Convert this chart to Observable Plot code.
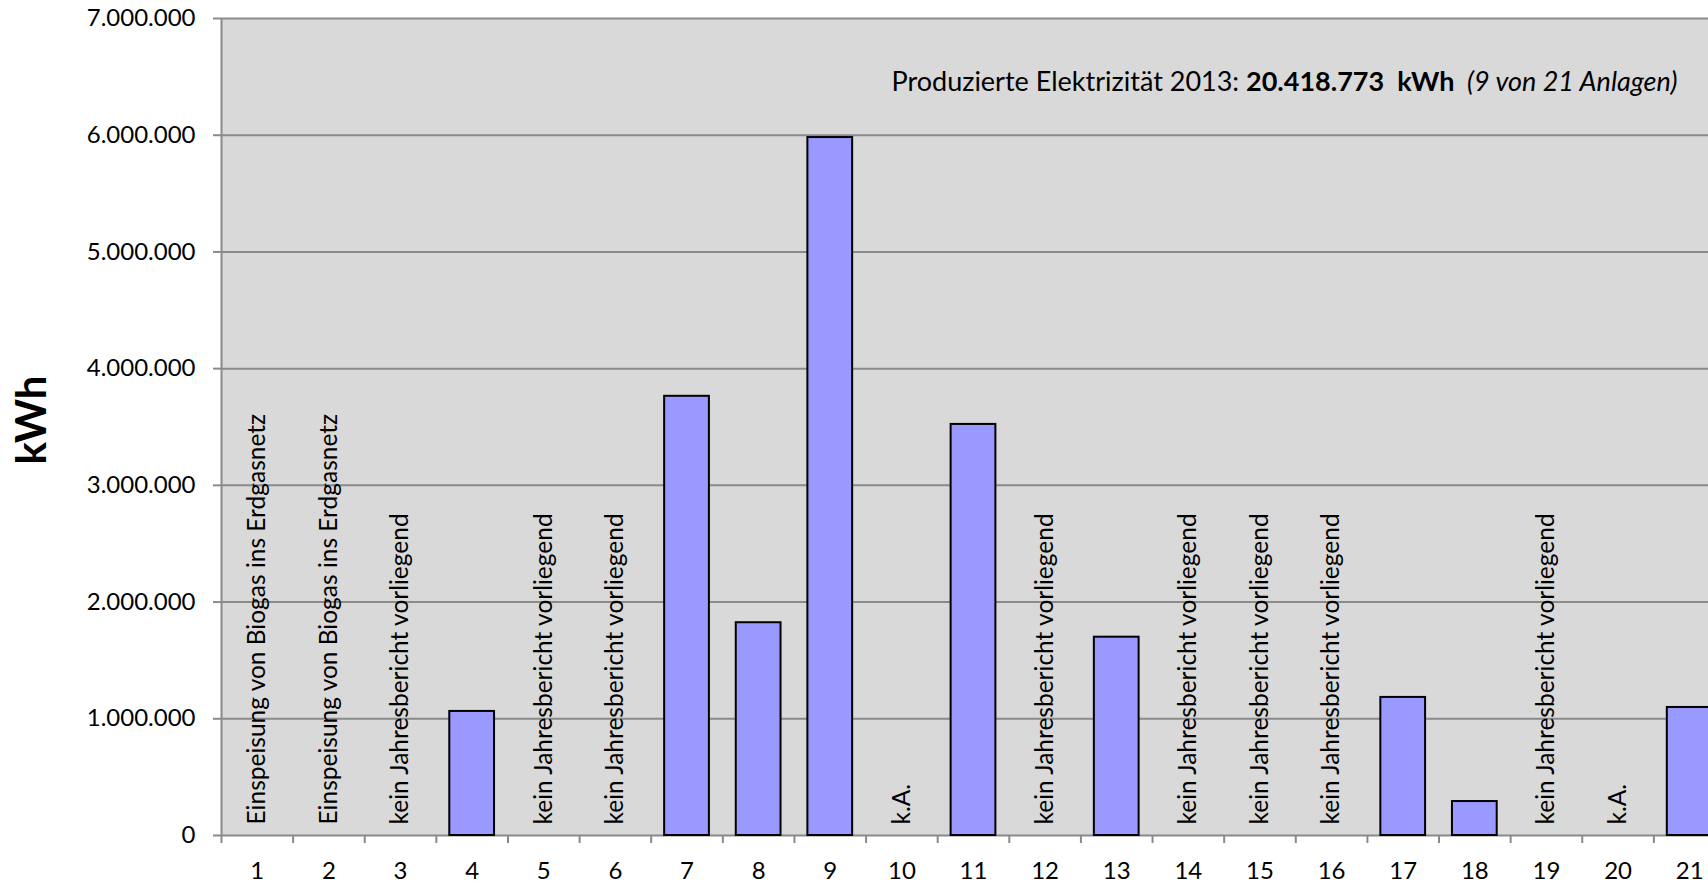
<!DOCTYPE html>
<html><head><meta charset="utf-8">
<script src="https://cdn.jsdelivr.net/npm/d3@7"></script>
<script src="https://cdn.jsdelivr.net/npm/@observablehq/plot@0.6"></script>
<style>
html,body{margin:0;padding:0;overflow:hidden;background:#fff;}
#chart svg{display:block;}
</style>
</head><body><div id="chart"></div>
<script>
// ---- data ----
const plants = ["1","2","3","4","5","6","7","8","9","10","11","12","13","14","15","16","17","18","19","20","21"];
const production = [null,null,null,1063000,null,null,3763000,1823000,5980000,null,3522000,null,1699000,null,null,null,1183000,291000,null,null,1097000];
const notes = [
  "Einspeisung von Biogas ins Erdgasnetz","Einspeisung von Biogas ins Erdgasnetz","kein Jahresbericht vorliegend","",
  "kein Jahresbericht vorliegend","kein Jahresbericht vorliegend","","","","k.A.","",
  "kein Jahresbericht vorliegend","","kein Jahresbericht vorliegend","kein Jahresbericht vorliegend","kein Jahresbericht vorliegend",
  "","","kein Jahresbericht vorliegend","k.A.",""
];
const yTicks = [0,1000000,2000000,3000000,4000000,5000000,6000000,7000000];
const totalLabel = ["Produzierte Elektrizität 2013:"];
const totalValue = [20418773];
const reportingCount = [9];
const plantCount = [21];
const yLabel = ["kWh"];

// ---- helpers ----
const de = d3.formatLocale({decimal: ",", thousands: ".", grouping: [3], currency: ["", " €"]});
const fmt = de.format(",d");

const bars = plants.map((p, i) => ({plant: p, value: production[i]})).filter(d => d.value != null);
const noteData = plants.map((p, i) => ({plant: p, note: notes[i]})).filter(d => d.note);

const W = 1725, H = 885;
const mL = 221, mR = 0, mT = 18, mB = 50;
const bw = (W - mL - mR) / plants.length;
const grid = "#8a8a8a";
const font = "Lato, 'Open Sans', sans-serif";

const totalText = `${totalLabel[0]} ${fmt(totalValue[0])}  kWh  (${reportingCount[0]} von ${plantCount[0]} Anlagen)`;

const chart = Plot.plot({
  width: W, height: H,
  marginLeft: mL, marginRight: mR, marginTop: mT, marginBottom: mB,
  style: {fontFamily: font, maxWidth: "none", background: "white", color: "black", overflow: "hidden"},
  x: {domain: plants, paddingInner: 0.375, paddingOuter: 0.1875, round: false, axis: null},
  y: {domain: [0, 7000000], axis: null},
  marks: [
    Plot.frame({fill: "#d9d9d9", stroke: null}),
    Plot.gridY(yTicks.slice(1), {stroke: grid, strokeOpacity: 1, strokeWidth: 2}),
    Plot.ruleY([0], {stroke: grid, strokeWidth: 2}),
    Plot.ruleX([plants[0]], {x: d => d, dx: -bw / 2, stroke: grid, strokeWidth: 2}),
    Plot.axisY({ticks: yTicks, tickFormat: fmt, tickSize: 8, tickPadding: 18, fontSize: 24, stroke: grid, strokeWidth: 2, fill: "black", label: null}),
    Plot.axisX({ticks: plants, tickSize: 8, tickFormat: () => "", dx: -bw / 2, stroke: grid, strokeWidth: 2, label: null}),
    Plot.axisX({ticks: plants, tickSize: 0, tickPadding: 26, fontSize: 24, fill: "black", label: null}),
    Plot.barY(bars, {x: "plant", y: "value", fill: "#9999ff", stroke: "black", strokeWidth: 2}),
    Plot.text(noteData, {x: "plant", y: () => 0, text: "note", rotate: -90, textAnchor: "start", lineAnchor: "middle", dy: -11, fontSize: 24.5, fill: "black"}),
    Plot.text(yLabel, {text: d => d, frameAnchor: "left", textAnchor: "middle", lineAnchor: "middle", dx: -189, dy: -7, rotate: -90, fontSize: 42, fontWeight: "bold", fill: "black"}),
    Plot.text([totalText], {text: d => d, frameAnchor: "top-right", dx: -48, dy: 64, textAnchor: "end", lineAnchor: "middle", fontSize: 27, fill: "black"})
  ]
});

// style the total annotation with bold value and italic count
d3.select(chart).selectAll("text").each(function() {
  if (this.textContent === totalText) {
    const t = d3.select(this);
    t.text(null);
    t.append("tspan").text(totalLabel[0] + " ");
    t.append("tspan").attr("font-weight", "bold").text(fmt(totalValue[0]) + "  kWh");
    t.append("tspan").attr("font-style", "italic").text(`  (${reportingCount[0]} von ${plantCount[0]} Anlagen)`);
    t.style("white-space", "pre");
  }
});

document.getElementById("chart").appendChild(chart);
</script>
</body></html>
